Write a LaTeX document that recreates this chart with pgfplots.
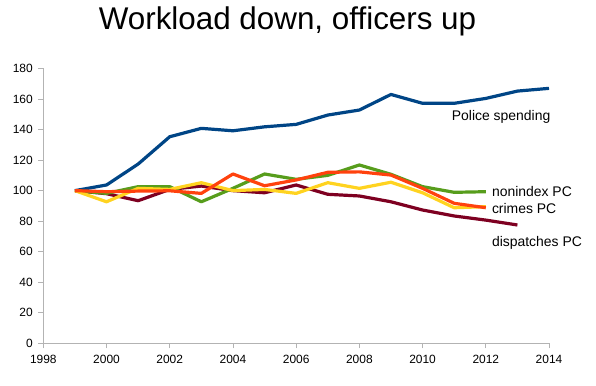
\documentclass[border=0pt]{standalone}
\usepackage{pgfplots}
\pgfplotsset{compat=1.18}
\usepackage{fontspec}
\setmainfont{Liberation Sans}
\definecolor{cblue}{HTML}{004586}
\definecolor{cred}{HTML}{FF420E}
\definecolor{cyellow}{HTML}{FFD320}
\definecolor{cgreen}{HTML}{579D1C}
\definecolor{cdark}{HTML}{7E0021}
\definecolor{axgray}{HTML}{B3B3B3}
\begin{document}
\begin{tikzpicture}[x=1bp,y=1bp]
\path[use as bounding box] (0,0) rectangle (596,385);
\node[anchor=base,inner sep=0,font=\fontsize{31.5}{36}\selectfont] at (287.5,356) {Workload down, officers up};
\begin{axis}[
  at={(43.3bp,41.7bp)}, anchor=south west,
  scale only axis, width=505.7bp, height=274.8bp,
  xmin=1998, xmax=2014, ymin=0, ymax=180,
  axis x line=bottom, axis y line=left,
  axis line style={axgray, line width=0.8bp, -},
  xtick={1998,2000,...,2014}, ytick={0,20,...,180},
  tick style={axgray, line width=0.8bp},
  tick align=outside, major tick length=5bp,
  x tick label style={/pgf/number format/1000 sep={}, font=\fontsize{12}{14}\selectfont, yshift=-3bp},
  y tick label style={font=\fontsize{12}{14}\selectfont, xshift=-2bp},
  /pgf/number format/assume math mode=true,
  clip=false,
  every axis plot/.append style={line width=3.2bp, line join=round, mark=none},
]
\addplot[cblue] coordinates {(1999,100)(2000,103.7)(2001,117.4)(2002,135.3)(2003,140.8)(2004,139.2)(2005,141.8)(2006,143.4)(2007,149.5)(2008,152.8)(2009,163)(2010,157.2)(2011,157.2)(2012,160.4)(2013,165.2)(2014,167)};
\addplot[cdark] coordinates {(1999,100)(2000,98)(2001,93.4)(2002,100.8)(2003,103)(2004,100)(2005,98.6)(2006,103.7)(2007,97.6)(2008,96.5)(2009,92.7)(2010,87.3)(2011,83.4)(2012,80.7)(2013,77.5)};
\addplot[cgreen] coordinates {(1999,100)(2000,98.2)(2001,102.6)(2002,102.6)(2003,92.7)(2004,101.5)(2005,110.9)(2006,107.4)(2007,110)(2008,116.8)(2009,110.7)(2010,102.6)(2011,98.9)(2012,99.3)};
\addplot[cyellow] coordinates {(1999,100)(2000,92.7)(2001,101.5)(2002,100.8)(2003,105.2)(2004,100)(2005,100.8)(2006,98.2)(2007,105.2)(2008,101.5)(2009,105.5)(2010,98.6)(2011,88.8)(2012,89.5)};
\addplot[cred] coordinates {(1999,100)(2000,99.3)(2001,99.7)(2002,99.9)(2003,98.2)(2004,110.9)(2005,103.2)(2006,107)(2007,112)(2008,112.3)(2009,110.2)(2010,101.5)(2011,91.7)(2012,88.8)};
\node[anchor=west,inner sep=0,font=\fontsize{14}{16}\selectfont] at (axis cs:2010.92,148.4) {Police spending};
\node[anchor=west,inner sep=0,font=\fontsize{14}{16}\selectfont] at (axis cs:2012.19,99.3) {nonindex PC};
\node[anchor=west,inner sep=0,font=\fontsize{14}{16}\selectfont] at (axis cs:2012.19,88.4) {crimes PC};
\node[anchor=west,inner sep=0,font=\fontsize{14}{16}\selectfont] at (axis cs:2012.19,65.9) {dispatches PC};
\end{axis}
\end{tikzpicture}
\end{document}
